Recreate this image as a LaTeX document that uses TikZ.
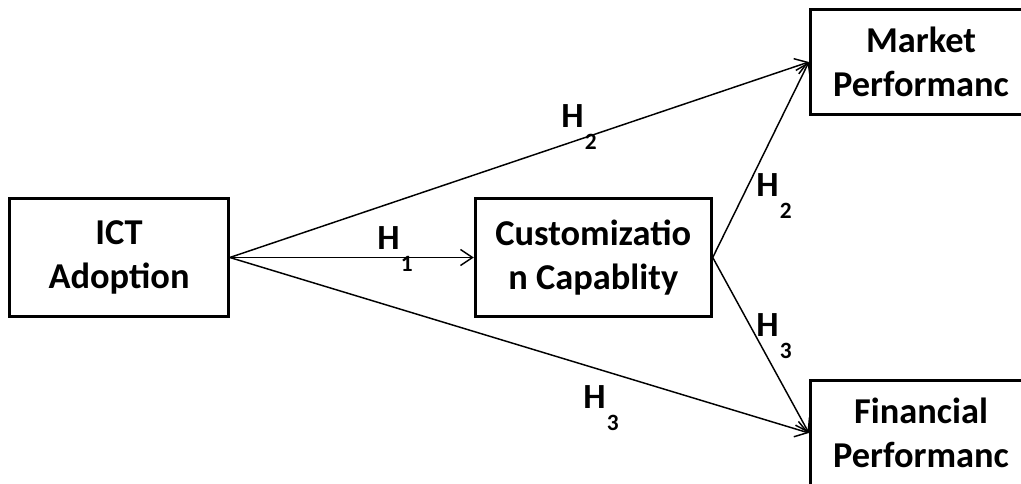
\documentclass[tikz,border=0pt]{standalone}
\usepackage{fontspec}
\setmainfont{Carlito}
\usepackage{tikz}
\usetikzlibrary{arrows.meta,positioning}

% hypothesis label with a lowered index
\newcommand{\hyplabel}[1]{H\hspace{1pt}\raisebox{-16pt}{\fontsize{17.5}{17.5}\selectfont #1}}

\begin{document}
\begin{tikzpicture}[
        x=0.75pt, y=0.75pt,
        var/.style={rectangle, draw, line width=2.2pt, fill=white, minimum width=164pt, minimum height=89pt, align=center, font=\fontsize{27.3}{33.5}\selectfont\bfseries},
        outc/.style={var, minimum width=166pt, minimum height=79pt},
        hyp/.style={inner sep=0pt, font=\fontsize{26.5}{30}\selectfont\bfseries},
        arrow/.style={-{Straight Barb[length=9pt,width=12pt]}, line width=1.1pt}
    ]
        \useasboundingbox (0,0) rectangle (1021,484);

        \node[var] (ict) at (119,226.5) {ICT\\Adoption};
        \node[var, right=183pt of ict, minimum width=177pt] (cust) {Customizatio\\n Capablity};
        \node[outc] (mkt) at (921,422) {Market\\Performanc};
        \node[outc] (fin) at (921,51) {Financial\\Performanc};

        \draw[arrow] (ict.east) -- (mkt.west);
        \draw[arrow] (ict.east) -- (cust.west);
        \draw[arrow] (ict.east) -- (fin.west);
        \draw[arrow] (cust.east) -- (mkt.west);
        \draw[arrow] (cust.east) -- (fin.west);

        \node[hyp] (h2top) at (579,357) {\hyplabel{2}};
        \node[hyp] (h1)    at (395,235) {\hyplabel{1}};
        \node[hyp] (h3bot) at (601,76)  {\hyplabel{3}};
        \node[hyp] (h2mid) at (774,288) {\hyplabel{2}};
        \node[hyp] (h3mid) at (774,148) {\hyplabel{3}};
    \end{tikzpicture}
\end{document}
